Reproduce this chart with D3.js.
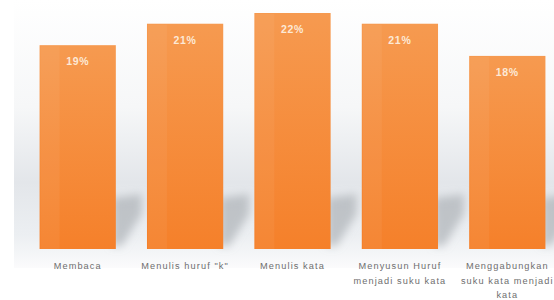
<!DOCTYPE html>
<html>
<head>
<meta charset="utf-8">
<script src="https://cdn.jsdelivr.net/npm/d3@7"></script>
<style>
  body { margin: 0; background: #fff; }
  svg { display: block; }
</style>
</head>
<body>
<div id="chart"></div>
<script>
// data
const categories = [
    ['Membaca'],
    ['Menulis huruf "k"'],
    ['Menulis kata'],
    ['Menyusun Huruf', 'menjadi suku kata'],
    ['Menggabungkan', 'suku kata menjadi', 'kata']
];
const values = [19, 21, 22, 21, 18];
const valueLabels = ['19%', '21%', '22%', '21%', '18%'];

const width = 554, height = 300;
const baseY = 249;

const svg = d3.select('#chart').append('svg')
    .attr('width', width)
    .attr('height', height);

const defs = svg.append('defs');

// background gradient (white -> light grey -> white)
const bg = defs.append('linearGradient')
    .attr('id', 'bg').attr('x1', 0).attr('y1', 0).attr('x2', 0).attr('y2', 1);
bg.append('stop').attr('offset', '0%').attr('stop-color', '#ffffff');
bg.append('stop').attr('offset', '40%').attr('stop-color', '#f6f7f8');
bg.append('stop').attr('offset', '68%').attr('stop-color', '#e3e6ea');
bg.append('stop').attr('offset', '88%').attr('stop-color', '#eceff2');
bg.append('stop').attr('offset', '100%').attr('stop-color', '#fbfbfc');

// bar gradient
const barGrad = defs.append('linearGradient')
    .attr('id', 'barGrad').attr('x1', 0).attr('y1', 0).attr('x2', 0).attr('y2', 1);
barGrad.append('stop').attr('offset', '0%').attr('stop-color', '#f69a50');
barGrad.append('stop').attr('offset', '100%').attr('stop-color', '#f5802a');

defs.append('filter').attr('id', 'blur')
    .attr('x', '-50%').attr('y', '-50%').attr('width', '200%').attr('height', '200%')
    .append('feGaussianBlur').attr('stdDeviation', 4);

svg.append('rect')
    .attr('x', 14).attr('y', 0)
    .attr('width', width - 14).attr('height', 268)
    .attr('fill', 'url(#bg)');

// scales
const x = d3.scaleBand()
    .domain(d3.range(values.length))
    .range([24, 561])
    .paddingInner(0.29)
    .paddingOuter(0.145);

const y = d3.scaleLinear()
    .domain([0, 22])
    .range([baseY, 13]);

// soft shadows behind bars
svg.append('g')
    .attr('filter', 'url(#blur)')
    .selectAll('path')
    .data(values)
    .join('path')
    .attr('fill', '#a4a9ae')
    .attr('opacity', 0.6)
    .attr('d', (d, i) => {
        const x1 = x(i) + x.bandwidth();
        return `M${x1 - 4},198 L${x1 + 26},194 L${x1 + 26},214 L${x1 + 6},246 L${x1 - 4},246 Z`;
    });

// bars
svg.append('g')
    .selectAll('rect')
    .data(values)
    .join('rect')
    .attr('x', (d, i) => x(i))
    .attr('y', d => y(d))
    .attr('width', x.bandwidth())
    .attr('height', d => baseY - y(d))
    .attr('fill', 'url(#barGrad)');

// subtle light stripe on the left part of each bar
svg.append('g')
    .selectAll('rect')
    .data(values)
    .join('rect')
    .attr('x', (d, i) => x(i) + 1)
    .attr('y', d => y(d) + 1)
    .attr('width', 19)
    .attr('height', d => baseY - y(d) - 1)
    .attr('fill', '#ffffff')
    .attr('opacity', 0.05);

// value labels
svg.append('g')
    .selectAll('text')
    .data(values)
    .join('text')
    .attr('x', (d, i) => x(i) + x.bandwidth() / 2)
    .attr('y', d => y(d) + 20)
    .attr('text-anchor', 'middle')
    .attr('font-family', 'Liberation Sans, Arial, sans-serif')
    .attr('font-size', 10.5)
    .attr('font-weight', 'bold')
    .attr('letter-spacing', 0.7)
    .attr('fill', '#fde9d6')
    .text((d, i) => valueLabels[i]);

// category labels
const cat = svg.append('g')
    .selectAll('text')
    .data(categories)
    .join('text')
    .attr('x', (d, i) => x(i) + x.bandwidth() / 2)
    .attr('y', 269)
    .attr('text-anchor', 'middle')
    .attr('font-family', 'Liberation Sans, Arial, sans-serif')
    .attr('font-size', 9.2)
    .attr('letter-spacing', 1.1)
    .attr('fill', '#6e6e6e');

cat.selectAll('tspan')
    .data(d => d)
    .join('tspan')
    .attr('x', function () { return d3.select(this.parentNode).attr('x'); })
    .attr('dy', (d, j) => j === 0 ? 0 : 14.5)
    .text(d => d);
</script>
</body>
</html>
